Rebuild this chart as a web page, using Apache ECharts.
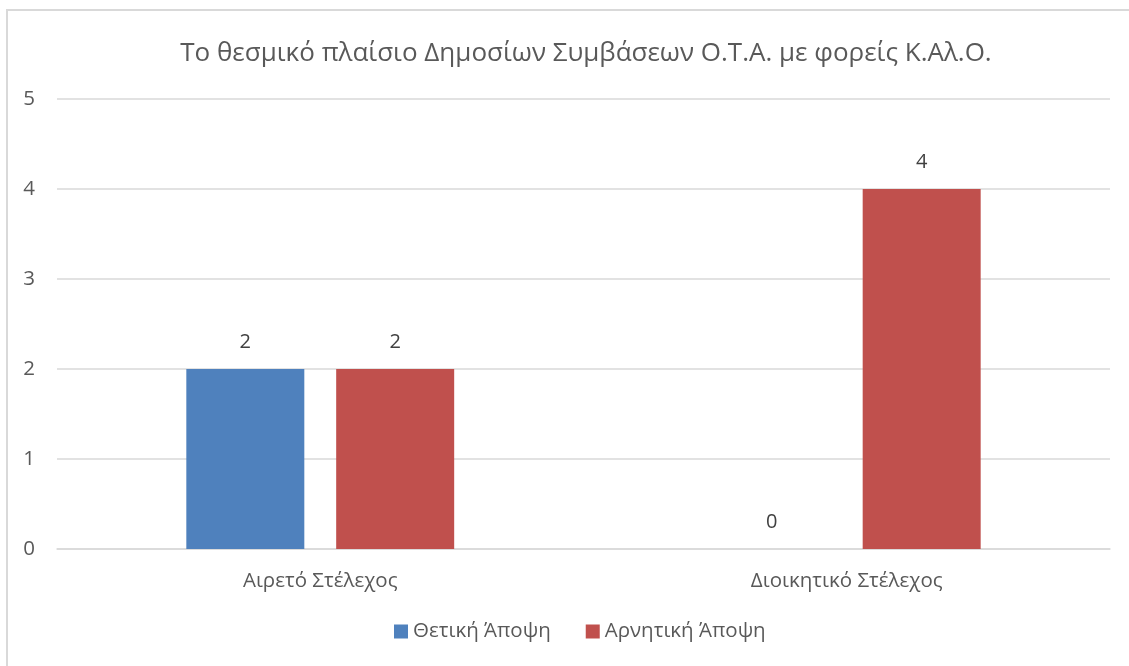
<!DOCTYPE html>
<html>
<head>
<meta charset="utf-8">
<script src="https://cdn.jsdelivr.net/npm/echarts@6/dist/echarts.min.js"></script>
<style>
  html, body { margin: 0; padding: 0; background: #fff; overflow: hidden; }
  #frame {
    position: absolute; left: 6px; top: 9px; width: 1140px; height: 680px;
    border: 2px solid #d9d9d9; box-sizing: border-box;
  }
  #chart { position: absolute; left: 0; top: 0; width: 1129px; height: 666px; }
</style>
</head>
<body>
<div id="frame"></div>
<div id="chart"></div>
<script>
// 类目、数据
const categories = ["Αιρετό Στέλεχος", "Διοικητικό Στέλεχος"];
const positiveValues = [2, 0];
const negativeValues = [2, 4];
const seriesNames = ["Θετική Άποψη", "Αρνητική Άποψη"];
const titleText = "Το θεσμικό πλαίσιο Δημοσίων Συμβάσεων Ο.Τ.Α. με φορείς Κ.Αλ.Ο.";

const fontFamily = "'Open Sans', 'Noto Sans', sans-serif";
const chartInstance = echarts.init(document.getElementById("chart"));

const labelStyle = {
  show: true,
  position: "top",
  distance: 17,
  color: "#404040",
  fontSize: 20,
  fontFamily,
};

const option = {
  animation: false,
  title: {
    text: titleText,
    left: 581,
    textAlign: "center",
    top: 36,
    textStyle: { color: "#595959", fontSize: 26, fontWeight: "normal", fontFamily },
  },
  legend: {
    data: seriesNames,
    bottom: 19,
    left: 389,
    itemWidth: 14,
    itemHeight: 14,
    itemGap: 35,
    icon: "rect",
    textStyle: { color: "#595959", fontSize: 20.5, fontFamily },
  },
  grid: { left: 57, right: 19, top: 99, bottom: 117 },
  xAxis: {
    type: "category",
    data: categories,
    axisTick: { show: false },
    axisLine: { lineStyle: { color: "#d9d9d9", width: 1.5 } },
    axisLabel: { color: "#595959", fontSize: 20.5, fontFamily, margin: 22 },
  },
  yAxis: {
    type: "value",
    min: 0,
    max: 5,
    interval: 1,
    axisLine: { show: false },
    axisTick: { show: false },
    splitLine: { lineStyle: { color: "#d9d9d9", width: 1.5 } },
    axisLabel: { color: "#595959", fontSize: 20.5, fontFamily, margin: 22 },
  },
  series: [
    {
      name: seriesNames[0],
      type: "bar",
      data: positiveValues,
      barWidth: 118,
      barGap: "27%",
      itemStyle: { color: "#4F81BD" },
      label: labelStyle,
    },
    {
      name: seriesNames[1],
      type: "bar",
      data: negativeValues,
      barWidth: 118,
      itemStyle: { color: "#C0504D" },
      label: labelStyle,
    },
  ],
};

chartInstance.setOption(option);
</script>
</body>
</html>
